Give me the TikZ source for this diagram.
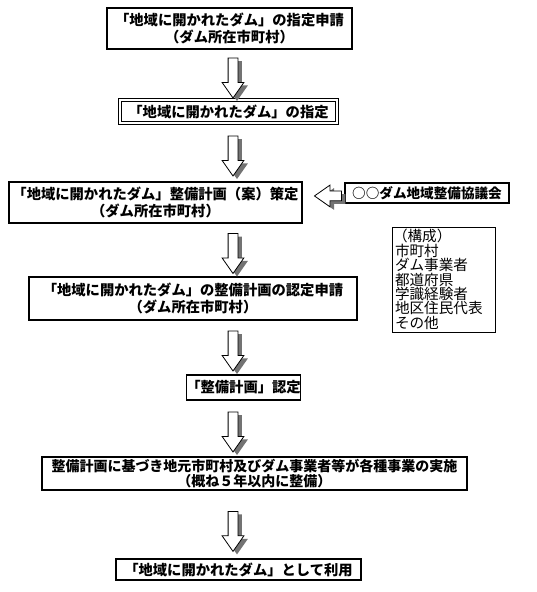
\documentclass[tikz,border=0pt]{standalone}
\usepackage{fontspec}
\newfontfamily\gothic{Noto Sans CJK JP}
\usetikzlibrary{shapes.arrows,shadows}

\begin{document}
\begin{tikzpicture}[x=1pt,y=-1pt,
    box/.style={draw,line width=1.1pt,fill=white,align=center,inner sep=0pt,
      font=\gothic\bfseries\fontsize{14.3}{17.5}\selectfont},
    member/.style={draw,line width=1pt,align=left,inner sep=0pt,
      font=\gothic\fontsize{14.6}{14.4}\selectfont},
    flow/.style={single arrow,draw,line width=.8pt,fill=white,inner sep=4.5pt,
      single arrow head extend=6pt,single arrow tip angle=70,
      minimum height=40pt,shape border rotate=270,
      drop shadow={shadow xshift=4pt,shadow yshift=-3pt,fill=black!55,opacity=1}}]
  \useasboundingbox (0,0) rectangle (537,592);
  \coordinate (spine) at (233,0);%<- all the down arrows sit on this line

  \node[box,minimum width=245,minimum height=41] (apply) at (229.5,28.5)
    {「地域に開かれたダム」の指定申請\\（ダム所在市町村）};
  \node[box,double,double distance=1.6pt,minimum width=217,minimum height=23] (desig) at (228.5,111.5)
    {「地域に開かれたダム」の指定};
  \node[box,minimum width=293,minimum height=41] (draft) at (155.5,202.5)
    {「地域に開かれたダム」整備計画（案）策定\\（ダム所在市町村）};
  \node[box,minimum width=164,minimum height=20,font=\gothic\bfseries\fontsize{13.6}{15}\selectfont] (council) at (427,193)
    {○○ダム地域整備協議会};
  \node[member,minimum width=103,minimum height=105,inner xsep=3pt,text width=97pt] (members) at (443.5,279.5)
    {\hspace*{-2pt}（構成）\\市町村\\ダム事業者\\都道府県\\学識経験者\\地区住民代表\\その他};
  \node[box,minimum width=328,minimum height=43] (request) at (193,298.5)
    {「地域に開かれたダム」の整備計画の認定申請\\（ダム所在市町村）};
  \node[box,minimum width=113,minimum height=25] (approve) at (243.5,387.5)
    {「整備計画」認定};
  \node[box,minimum width=425,minimum height=33,font=\gothic\bfseries\fontsize{14}{15.5}\selectfont] (works) at (254.5,473.5)
    {整備計画に基づき地元市町村及びダム事業者等が各種事業の実施\\（概ね５年以内に整備）};
  \node[box,minimum width=245,minimum height=21] (use) at (238.5,569.5)
    {「地域に開かれたダム」として利用};

  \path (apply.south -| spine) -- node[flow] (a1) {} (desig.north -| spine);
  \path (desig.south -| spine) -- node[flow] (a2) {} (draft.north -| spine);
  \path (draft.south -| spine) -- node[flow] (a3) {} (request.north -| spine);
  \path (request.south -| spine) -- node[flow] (a4) {} (approve.north -| spine);
  \path (approve.south -| spine) -- node[flow] (a5) {} (works.north -| spine);
  \path (works.south -| spine) -- node[flow,pos=.55] (a6) {} (use.north -| spine);
  \path (council.west) -- node[flow,pos=.31,shape border rotate=180,minimum height=27pt] (a7) {} (draft.east);
\end{tikzpicture}
\end{document}
